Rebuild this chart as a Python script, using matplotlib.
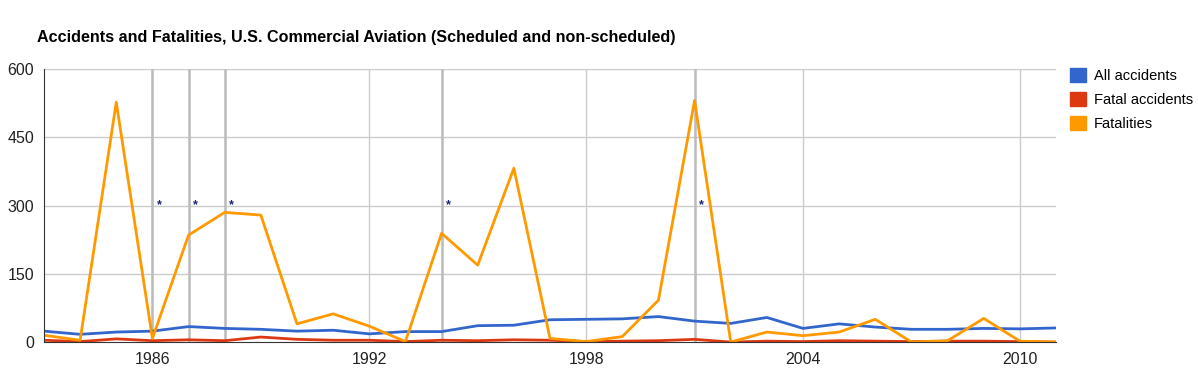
import matplotlib.pyplot as plt
from matplotlib.patches import Patch

plt.rcParams['font.family'] = ['Liberation Sans', 'DejaVu Sans']

# data
years = list(range(1983, 2012))
all_accidents = [24, 17, 22, 24, 34, 30, 28, 24, 26, 18, 23, 23, 36, 37, 49, 50,
                 51, 56, 46, 41, 54, 30, 40, 33, 28, 28, 30, 29, 31]
fatal_accidents = [4, 1, 7, 3, 5, 3, 11, 6, 4, 4, 1, 4, 3, 5, 4, 1,
                   2, 3, 6, 0, 2, 1, 3, 2, 1, 2, 2, 1, 0]
fatalities = [15, 4, 527, 8, 235, 285, 279, 40, 62, 35, 1, 239, 169, 382, 8, 1,
              12, 92, 531, 0, 22, 14, 22, 50, 0, 3, 52, 2, 0]
note_years = [1986, 1987, 1988, 1994, 2001]
x_ticks = [1986, 1992, 1998, 2004, 2010]
y_ticks = [0, 150, 300, 450, 600]

fig = plt.figure(figsize=(11.98, 3.71), dpi=100)
ax = fig.add_axes([0.0367, 0.078, 0.8448, 0.736])

# grid
for y in y_ticks[1:]:
    ax.axhline(y, color='#cccccc', lw=1, zorder=0)
for x in x_ticks:
    ax.axvline(x, color='#cccccc', lw=1, zorder=0)
for x in note_years:
    ax.axvline(x, color='#bbbbbb', lw=1.8, zorder=0)
    ax.text(x + 0.12, 300, '*', color='#1a237e', fontsize=9, fontweight='bold',
            ha='left', va='center')

ax.plot(years, all_accidents, color='#3366cc', lw=2)
ax.plot(years, fatal_accidents, color='#dc3912', lw=2)
ax.plot(years, fatalities, color='#ff9900', lw=2)

ax.set_xlim(1983, 2011)
ax.set_ylim(0, 600)
ax.set_xticks(x_ticks)
ax.set_yticks(y_ticks)
ax.tick_params(length=0, labelsize=11.5, labelcolor='#222222')
ax.tick_params(axis='x', pad=7)
ax.tick_params(axis='y', pad=7)
for side in ['top', 'right']:
    ax.spines[side].set_visible(False)
ax.spines['left'].set_color('#333333')
ax.spines['bottom'].set_color('#333333')

fig.text(0.031, 0.9, 'Accidents and Fatalities, U.S. Commercial Aviation (Scheduled and non-scheduled)',
         fontsize=11.6, fontweight='bold', va='center', ha='left')

handles = [Patch(color='#3366cc', label='All accidents'),
           Patch(color='#dc3912', label='Fatal accidents'),
           Patch(color='#ff9900', label='Fatalities')]
fig.legend(handles=handles, loc='upper left', bbox_to_anchor=(0.8935, 0.816),
           frameon=False, fontsize=10.5, handlelength=1.1, handleheight=1.1,
           handletextpad=0.5, labelspacing=0.62, borderaxespad=0, borderpad=0)

fig.savefig('out.png', dpi=100)
